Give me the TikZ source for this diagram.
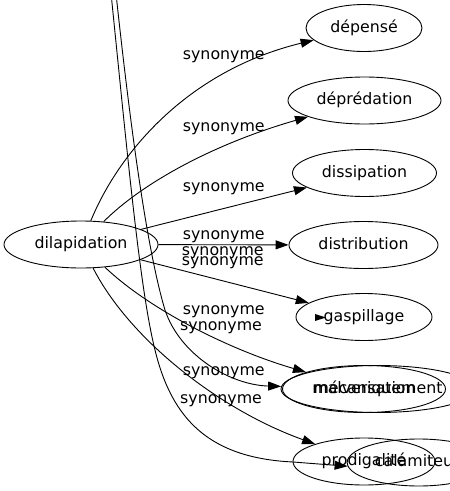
\documentclass[tikz,border=0pt]{standalone}
\usepackage{fontspec}
\setmainfont{DejaVu Sans}
\usetikzlibrary{shapes.geometric,arrows.meta}
\begin{document}
\begin{tikzpicture}[x=1pt,y=-1pt,
  nd/.style={draw, ellipse, inner sep=0pt, line width=0.9pt, minimum height=47pt,
    text height=11.5pt, text depth=3.5pt,
    font=\fontsize{15.8}{19}\selectfont},
  lab/.style={anchor=base west, inner sep=0pt, font=\fontsize{15.8}{19}\selectfont},
  edge/.style={line width=0.9pt, -{Triangle[length=13pt,width=9pt]}}]
\useasboundingbox (0,0) rectangle (450,491);
\clip (0,0) rectangle (450,491);
% nodes
\node[nd, minimum width=154pt] (dil) at (81,244.5) {dilapidation};
\node[nd, minimum width=116pt] (dep) at (364,28) {dépensé};
\node[nd, minimum width=153pt] (depr) at (364.5,100.5) {déprédation};
\node[nd, minimum width=144pt] (diss) at (364.5,173) {dissipation};
\node[nd, minimum width=149pt] (distr) at (363.5,245) {distribution};
\node[nd, minimum width=136pt] (gasp) at (364,317) {gaspillage};
\node[nd, minimum width=163pt] (malv) at (364,389) {malversation};
\node[nd, minimum width=194pt] (meca) at (378,389) {mécaniquement};
\node[nd, minimum width=142pt] (prod) at (364,461.5) {prodigalité};
\node[nd, minimum width=143pt] (cal) at (418.7,462.5) {calamiteux};
\coordinate (topA) at (111.7,0);
\coordinate (topB) at (116.7,0);
% edges
\draw[edge] (dil) .. controls (120,150) and (190,70) .. (dep);
\draw[edge] (dil) .. controls (140,185) and (210,145) .. (depr);
\draw[edge] (dil) -- (diss);
\draw[edge] (dil) -- (distr);
\draw[edge] (dil) -- (gasp);
\draw[edge] (dil) .. controls (150,310) and (230,350) .. (malv);
\draw[edge] (dil) .. controls (130,340) and (220,410) .. (prod);
\draw[edge] (topA) .. controls (128,160) and (140,290) .. (155,350)
  .. controls (172,420) and (210,458) .. (293,462) -- (cal.183);
\draw[edge] (topB) .. controls (134,160) and (150,260) .. (165,310)
  .. controls (180,355) and (230,385) .. (meca);
\fill (315,314) -- (326,317.5) -- (315,321) -- cycle;
% labels
\node[lab] (l1) at (182.7,59.5) {synonyme};
\node[lab] (l2) at (182.7,131.7) {synonyme};
\node[lab] (l3) at (182.7,191) {synonyme};
\node[lab] (l4) at (182.7,239) {synonyme};
\node[lab] (l5) at (181.7,255) {synonyme};
\node[lab] (l6) at (181.7,265) {synonyme};
\node[lab] (l7) at (182.7,314) {synonyme};
\node[lab] (l8) at (180,330) {synonyme};
\node[lab] (l9) at (182.7,375) {synonyme};
\node[lab] (l10) at (180,403) {synonyme};
\end{tikzpicture}
\end{document}
